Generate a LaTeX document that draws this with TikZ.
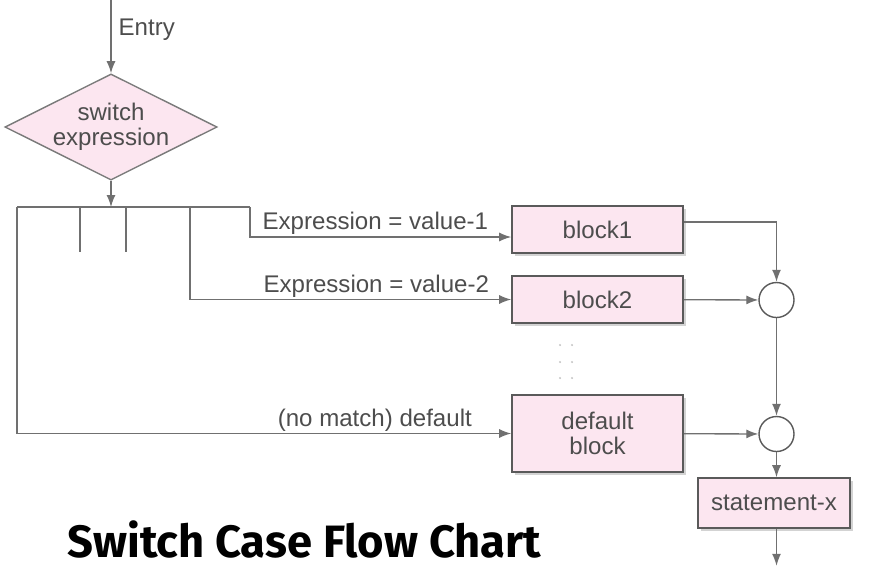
\documentclass[tikz,border=0pt]{standalone}
\usepackage{fontspec}
\setmainfont{Liberation Sans}
\newfontfamily\titlefont{Fira Sans}
\usetikzlibrary{shapes.geometric, arrows.meta, shadows}

\definecolor{blockpink}{HTML}{FCE6F0}
\definecolor{edgegray}{HTML}{5A5A5A}
\definecolor{linegray}{HTML}{707070}
\definecolor{textgray}{HTML}{4D4D4D}

\begin{document}
\begin{tikzpicture}[
    font=\fontsize{13.7}{14.5}\selectfont,
    >={Latex[length=2.4mm, width=1.8mm]},
    line/.style={draw=linegray, line width=0.75pt},
    block/.style={rectangle, draw=edgegray, line width=0.9pt, fill=blockpink,
        minimum width=3.42cm, minimum height=0.94cm, text=textgray, align=center,
        drop shadow={shadow xshift=0.05cm, shadow yshift=-0.06cm, opacity=0.35}},
    decision/.style={diamond, aspect=2, inner sep=0pt, draw=edgegray!80, line width=0.8pt,
        fill=blockpink, minimum width=4.04cm, minimum height=1.96cm, text=textgray, align=center},
    junction/.style={circle, draw=edgegray, line width=0.8pt, fill=white,
        minimum size=0.70cm, inner sep=0pt},
    lbl/.style={text=textgray, inner sep=1pt}
]
    \useasboundingbox (0,0) rectangle (17.38,-11.36);

    % Draw blocks
    \node[decision] (sw) at (2.22,-2.54) {switch\\expression};
    \node[block] (block1) at (11.95,-4.59) {block1};
    \node[block] (block2) at (11.95,-5.99) {block2};
    \node[block, minimum height=1.54cm] (deflt) at (11.95,-8.67) {default\\block};
    \node[block, minimum width=3.04cm, minimum height=1.0cm] (stmt) at (15.48,-10.06) {statement-x};
    \node[junction] (j1) at (15.53,-6.00) {};
    \node[junction] (j2) at (15.53,-8.68) {};

    % points on the switch bar
    \coordinate (entry) at (2.22,0);
    \coordinate (barL) at (0.34,-4.14);
    \coordinate (barR) at (5.00,-4.14);
    \coordinate (tap2) at (3.80,-4.14);

    \draw[line,->] (entry) -- (sw) node[lbl, pos=0.4, right=3pt] (entrylbl) {Entry};
    \draw[line,->] (sw) -- (sw.south |- barL);
    \draw[line] (barL) -- (barR);
    \foreach \x in {1.60,2.52}
        \draw[line] (\x,-4.14) -- ++(0,-0.90);

    \draw[line,->] (barR) |- ([yshift=-0.15cm]block1.west)
        node[lbl, pos=0.74, above] (lbl1) {Expression = value-1};
    \draw[line,->] (tap2) |- (block2.west)
        node[lbl, pos=0.79, above] (lbl2) {Expression = value-2};
    \draw[line,->] (barL) |- (deflt.west)
        node[lbl, pos=0.862, above] (lbl3) {(no match) default};

    % dots between block2 and default
    \foreach \y in {-6.90,-7.24,-7.56}
        \foreach \x in {11.20,11.44}
            \fill[black!22] (\x,\y) circle (0.7pt);

    % joining the outputs
    \draw[line,->] ([yshift=0.15cm]block1.east) -| (j1.north);
    \draw[line,->] (block2) -- (j1);
    \draw[line,->] (j1) -- (j2);
    \draw[line,->] (deflt) -- (j2);
    \draw[line,->] (j2.south) -- (j2.south |- stmt.north);
    \draw[line,->] (j2.south |- stmt.south) -- ++(0,-0.74);

    \node[anchor=base west, inner sep=0pt, font=\titlefont\bfseries\fontsize{25.8}{30}\selectfont]
        (title) at (1.34,-11.14) {Switch Case Flow Chart};
\end{tikzpicture}
\end{document}
